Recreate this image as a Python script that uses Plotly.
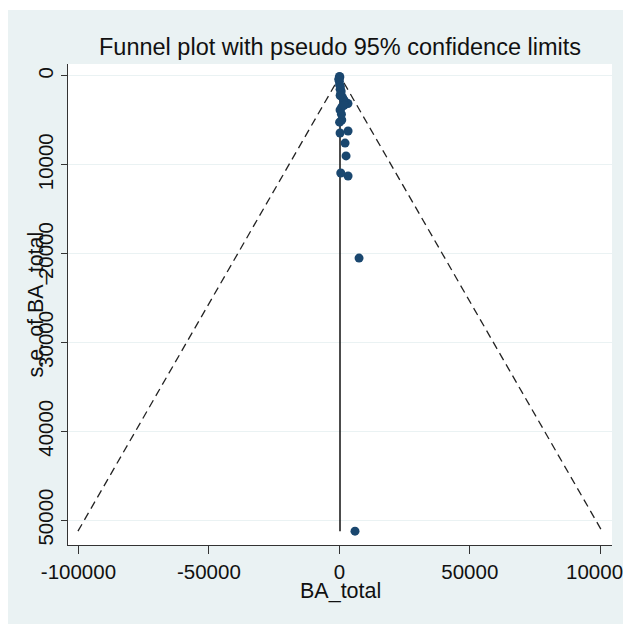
import plotly.graph_objects as go

# Study-level estimates and standard errors
estimates = [7550, 6000, 3340, 540, 2570, 2190, 3340, 270, 920, 100, 270,
             2500, 3300, 2000, 1200, 600, 300, 100, 0, -100, 200, 50,
             900, 1500, 700, 400, -200, 800, 300, 1800]
std_errors = [20500, 51240, 11260, 10920, 9000, 7550, 6190, 6420, 4950, 5200, 3830,
              3000, 3100, 2800, 2400, 2000, 1500, 1000, 600, 300, 100, 50,
              3500, 2600, 1700, 1200, 400, 4300, 2200, 3300]
pooled_estimate = 250
z_value = 1.96

x_ticks = [-100000, -50000, 0, 50000, 100000]
y_ticks = [0, 10000, 20000, 30000, 40000, 50000]

title_text = "Funnel plot with pseudo 95% confidence limits"
x_title = "BA_total"
y_title = "s.e. of BA_total"

se_max = max(std_errors)
FONT = "Liberation Sans, Arial, sans-serif"
NAVY = "#1a476f"
BG = "#eaf2f3"

W, H = 623, 616
L, R, T, B = 60, 19, 56, 79
PW, PH = W - L - R, H - T - B

fig = go.Figure()

# pseudo 95% confidence limits (dashed funnel)
fig.add_trace(go.Scatter(
    x=[pooled_estimate - z_value * se_max, pooled_estimate, pooled_estimate + z_value * se_max],
    y=[se_max, 0, se_max],
    mode="lines",
    line=dict(color="#222222", width=1.3, dash="8px,5px"),
    hoverinfo="skip", showlegend=False))

# pooled estimate vertical line
fig.add_trace(go.Scatter(
    x=[pooled_estimate, pooled_estimate],
    y=[0, se_max],
    mode="lines",
    line=dict(color="#111111", width=1.5),
    hoverinfo="skip", showlegend=False))

# studies
fig.add_trace(go.Scatter(
    x=estimates, y=std_errors, mode="markers",
    marker=dict(color=NAVY, size=9, line=dict(width=0)),
    showlegend=False))

fig.update_layout(
    width=W, height=H,
    margin=dict(l=L, r=R, t=T, b=B, autoexpand=False),
    paper_bgcolor=BG,
    plot_bgcolor="white",
    font=dict(family=FONT, color="#111111"),
    title=dict(text=title_text, x=0.5, xref="paper", xanchor="center",
               y=1 - 39 / H, yref="container", yanchor="middle", automargin=False,
               font=dict(size=23.5, family=FONT, color="#111111")),
    shapes=[
        dict(type="rect", xref="paper", yref="paper", layer="below",
             x0=-L / PW - 0.01, x1=1 + R / PW + 0.01,
             y0=1 + (T - 2) / PH, y1=1 + (T + 5) / PH,
             fillcolor="white", line=dict(width=0)),
    ],
    annotations=[
        dict(text=x_title, xref="paper", yref="paper", x=0.5, y=-46 / PH,
             xanchor="center", yanchor="middle", showarrow=False,
             font=dict(size=21.5, family=FONT, color="#111111")),
        dict(text=y_title, xref="paper", yref="paper", x=-33 / PW, y=0.5,
             xanchor="center", yanchor="middle", textangle=-90, showarrow=False,
             font=dict(size=21.5, family=FONT, color="#111111")),
    ],
)

fig.update_xaxes(
    range=[-104000, 104500], tickvals=x_ticks, ticktext=[str(v) for v in x_ticks],
    automargin=False, ticklabeloverflow="allow",
    showgrid=False, zeroline=False,
    showline=True, linecolor="#333333", linewidth=1,
    ticks="outside", ticklen=8, tickcolor="#333333", tickwidth=1,
    tickfont=dict(size=20.5, family=FONT, color="#111111"))

fig.update_yaxes(
    range=[52800, -1350], tickvals=y_ticks, ticktext=[str(v) for v in y_ticks],
    automargin=False, ticklabeloverflow="allow",
    showgrid=True, gridcolor=BG, gridwidth=1, zeroline=False,
    showline=True, linecolor="#333333", linewidth=1,
    ticks="outside", ticklen=6, tickcolor="#333333", tickwidth=1,
    tickangle=-90,
    tickfont=dict(size=20.5, family=FONT, color="#111111"))

fig.write_html("out.html")
